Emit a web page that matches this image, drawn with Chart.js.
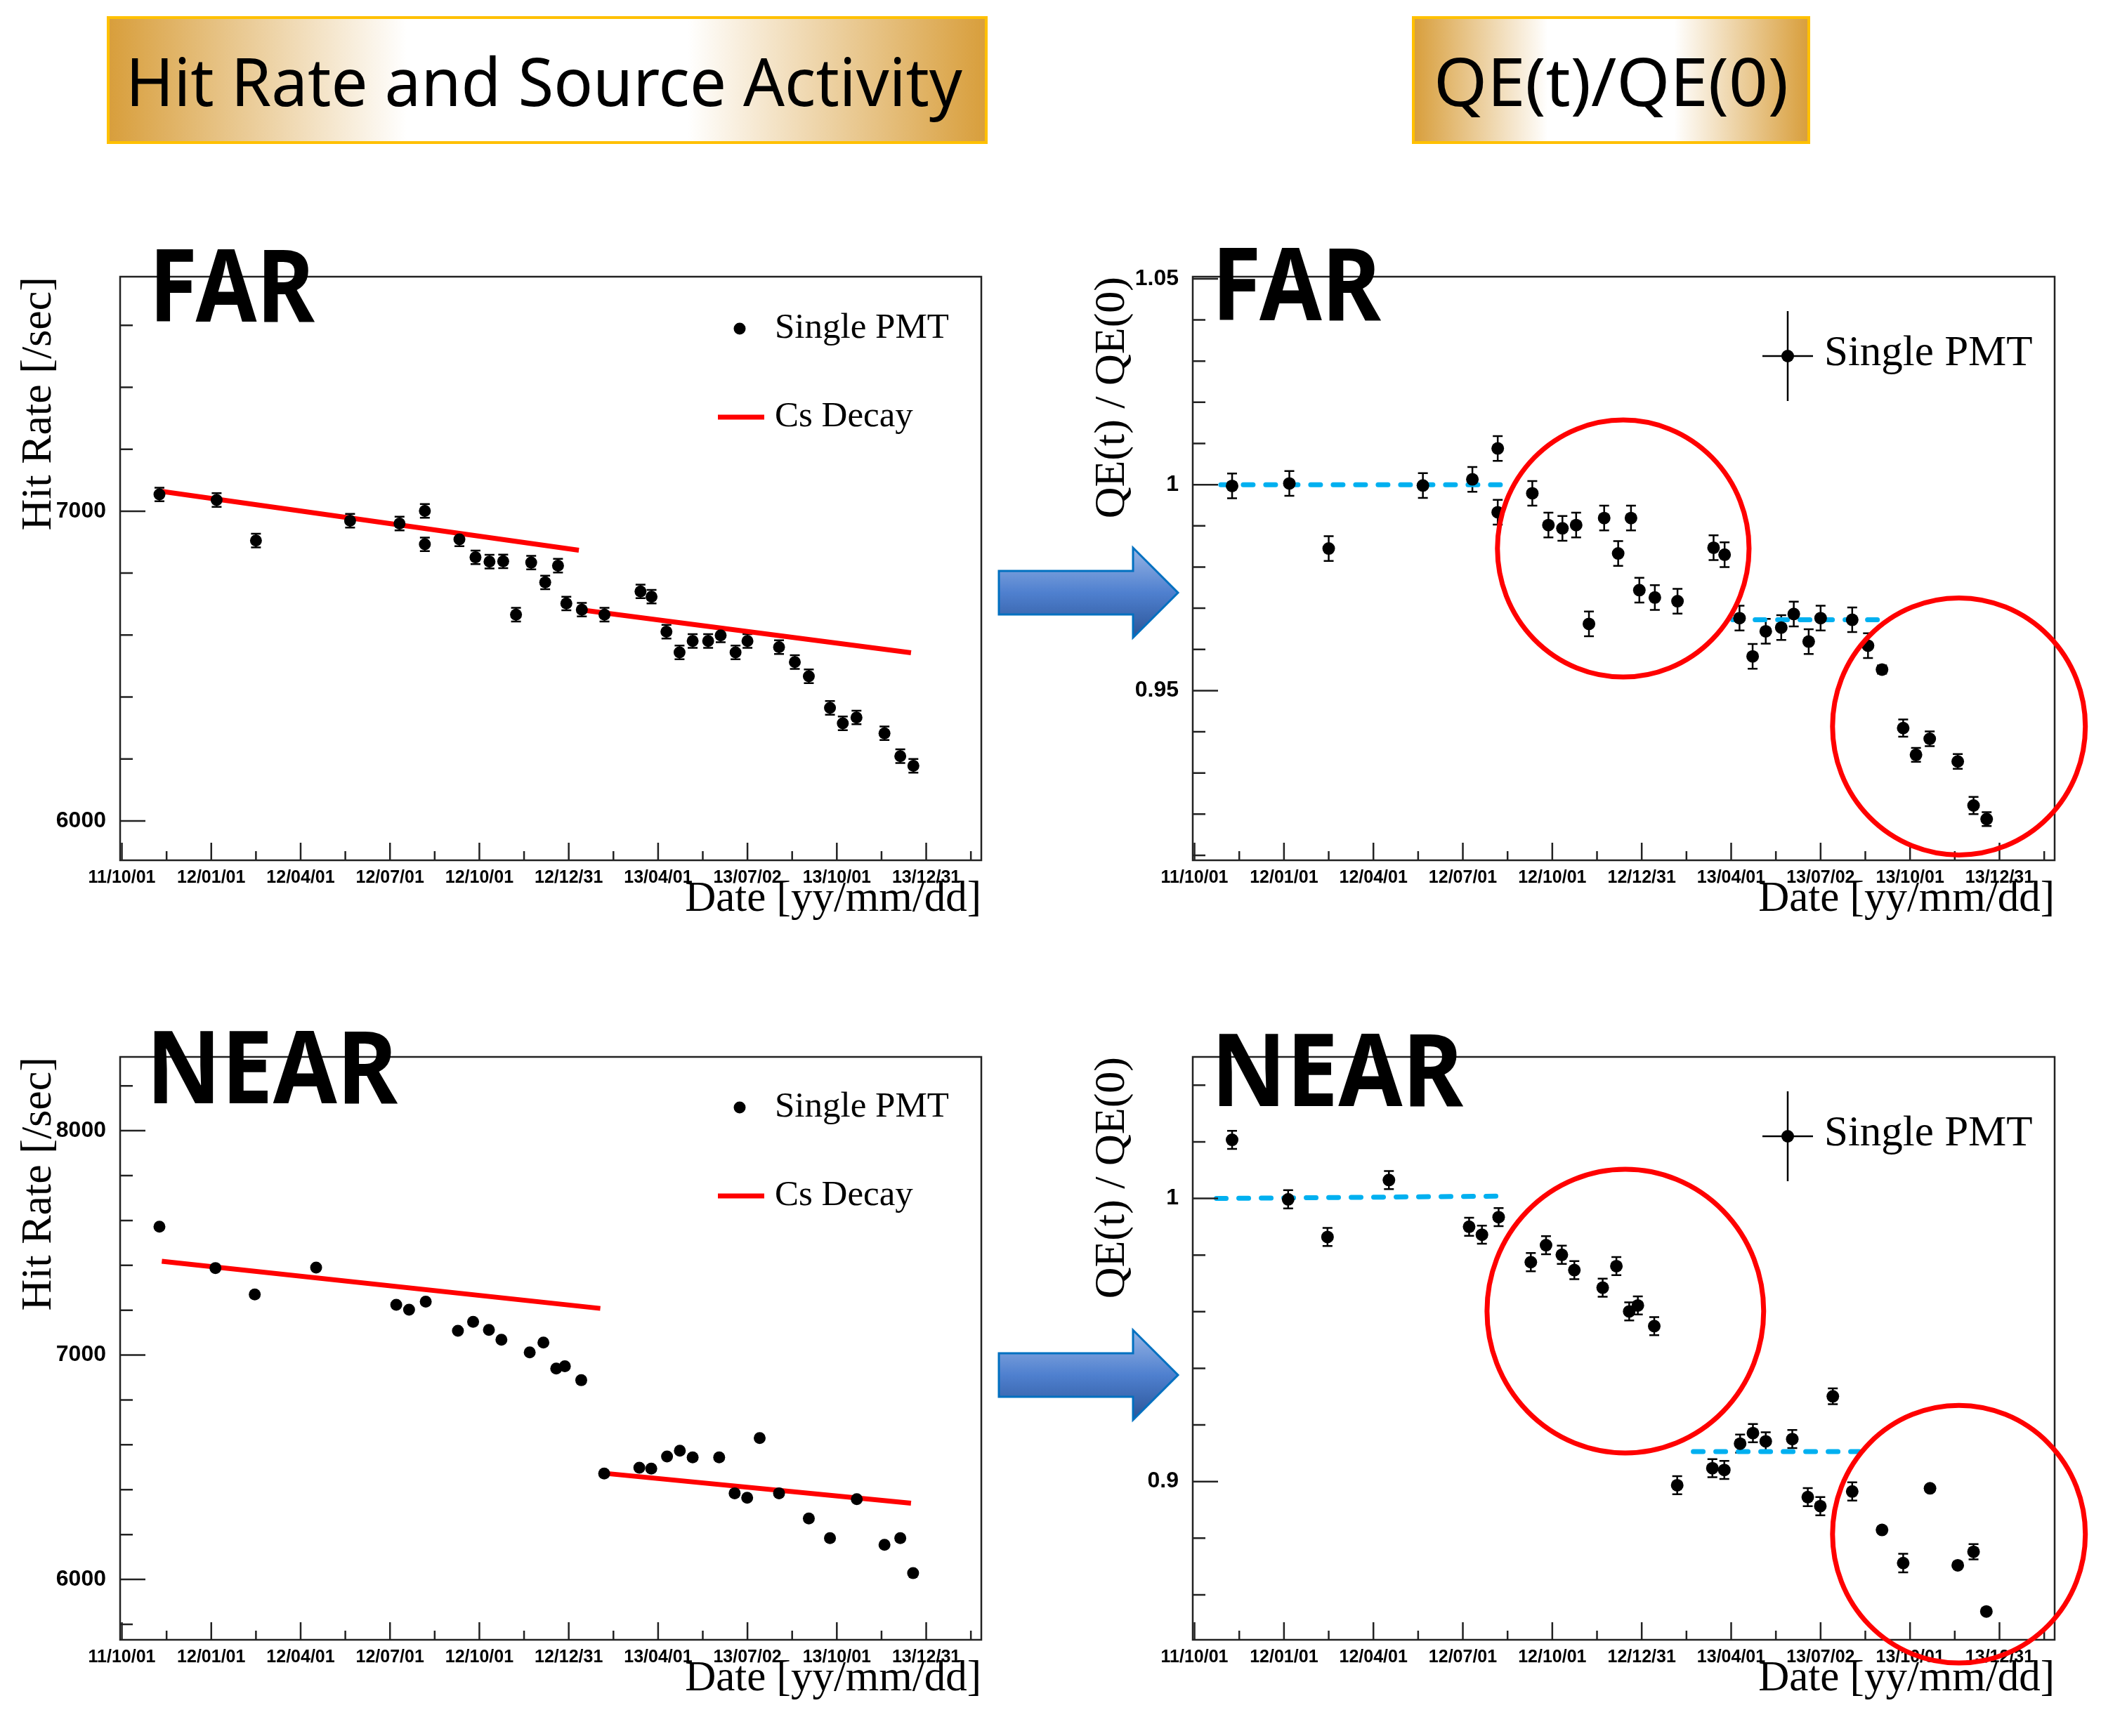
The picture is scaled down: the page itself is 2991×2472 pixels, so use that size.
<!DOCTYPE html>
<html>
<head>
<meta charset="utf-8">
<script src="https://cdn.jsdelivr.net/npm/chart.js@4.4.0/dist/chart.umd.min.js"></script>
<style>
html, body { margin: 0; padding: 0; background: #fff; }
#page { position: relative; width: 2991px; height: 2472px; overflow: hidden; background: #fff; }
#page canvas { position: absolute; }
#overlay { position: absolute; left: 0; top: 0; }
</style>
</head>
<body>
<div id="page">
  <canvas id="farRate" width="1480" height="1060" style="left:0px;top:300px"></canvas>
  <canvas id="farQe" width="1511" height="1060" style="left:1480px;top:300px"></canvas>
  <canvas id="nearRate" width="1480" height="1060" style="left:0px;top:1410px"></canvas>
  <canvas id="nearQe" width="1511" height="1060" style="left:1480px;top:1410px"></canvas>

  <svg id="overlay" width="2991" height="2472" viewBox="0 0 2991 2472">
    <defs>
      <linearGradient id="gold" x1="0" x2="1" y1="0" y2="0">
        <stop offset="0" stop-color="#D89E3B"/>
        <stop offset="0.34" stop-color="#FFFFFF"/>
        <stop offset="0.66" stop-color="#FFFFFF"/>
        <stop offset="1" stop-color="#D89E3B"/>
      </linearGradient>
      <linearGradient id="blue" x1="0" x2="0" y1="0" y2="1">
        <stop offset="0" stop-color="#97B4E4"/>
        <stop offset="0.5" stop-color="#4F80CF"/>
        <stop offset="1" stop-color="#2B5497"/>
      </linearGradient>
    </defs>
    <rect x="154" y="25" width="1250" height="178" fill="url(#gold)" stroke="#FFC000" stroke-width="4"/>
    <text x="179" y="151" font-family="Noto Sans" font-size="95" fill="#000" textLength="1191" lengthAdjust="spacingAndGlyphs">Hit Rate and Source Activity</text>
    <rect x="2012" y="25" width="563" height="178" fill="url(#gold)" stroke="#FFC000" stroke-width="4"/>
    <text x="2041" y="151" font-family="Noto Sans" font-size="95" fill="#000" textLength="505" lengthAdjust="spacingAndGlyphs">QE(t)/QE(0)</text>

    <polygon points="1422,813 1613,813 1613,780 1677,844 1613,908 1613,875 1422,875" fill="url(#blue)" stroke="#0070C0" stroke-width="3"/>
    <polygon points="1422,1927 1613,1927 1613,1894 1677,1958 1613,2022 1613,1989 1422,1989" fill="url(#blue)" stroke="#0070C0" stroke-width="3"/>

    <text x="212" y="458" font-family="Noto Sans" font-weight="700" font-size="143" fill="#000" textLength="236" lengthAdjust="spacingAndGlyphs">FAR</text>
    <text x="1725" y="456" font-family="Noto Sans" font-weight="700" font-size="143" fill="#000" textLength="241" lengthAdjust="spacingAndGlyphs">FAR</text>
    <text x="208" y="1571" font-family="Noto Sans" font-weight="700" font-size="143" fill="#000" textLength="358" lengthAdjust="spacingAndGlyphs">NEAR</text>
    <text x="1724" y="1575" font-family="Noto Sans" font-weight="700" font-size="143" fill="#000" textLength="359" lengthAdjust="spacingAndGlyphs">NEAR</text>
  </svg>
</div>

<script>
// x values are months since 2011-10-01; axis labels every quarter
const quarterLabels = ['11/10/01', '12/01/01', '12/04/01', '12/07/01', '12/10/01',
  '12/12/31', '13/04/01', '13/07/02', '13/10/01', '13/12/31'];

// FAR detector
const farMonths = [1.26, 3.18, 4.5, 7.66, 9.32, 10.17, 10.17, 11.33, 11.87, 12.34, 12.8, 13.23,
  13.74, 14.21, 14.64, 14.92, 15.44, 16.2, 17.41, 17.78, 18.28, 18.72, 19.16, 19.68,
  20.1, 20.6, 21.0, 22.06, 22.59, 23.06, 23.77, 24.2, 24.66, 25.6, 26.13, 26.57];
const farRate = [7054, 7036, 6905, 6969, 6960, 7001, 6893, 6909, 6851, 6837, 6838, 6666,
  6834, 6770, 6824, 6702, 6682, 6666, 6741, 6724, 6611, 6544, 6581, 6581,
  6599, 6544, 6581, 6561, 6513, 6467, 6365, 6315, 6334, 6283, 6209, 6178];
const farRateErr = farMonths.map(() => 22);
const farDecayEarlyX = [1.34, 15.34];
const farDecayEarlyY = [7064, 6874];
const farDecayLateX = [15.38, 26.49];
const farDecayLateY = [6682, 6543];

const farQe = [0.9997, 1.0003, 0.9845, 0.9998, 1.0013, 1.0088, 0.9933, 0.9979, 0.9902, 0.9894, 0.9902, 0.9662,
  0.9919, 0.9833, 0.9919, 0.9744, 0.9726, 0.9717, 0.9847, 0.983, 0.9676, 0.9583, 0.9644, 0.9653,
  0.9686, 0.9619, 0.9676, 0.9672, 0.9609, 0.9551, 0.9409, 0.9344, 0.9383, 0.9328, 0.9221, 0.9188];
const farQeErr = [0.003, 0.003, 0.003, 0.003, 0.003, 0.003, 0.003, 0.003, 0.003, 0.003, 0.003, 0.003,
  0.003, 0.003, 0.003, 0.003, 0.003, 0.003, 0.003, 0.003, 0.003, 0.003, 0.003, 0.003,
  0.003, 0.003, 0.003, 0.003, 0.003, 0.001, 0.0021, 0.0017, 0.0018, 0.0018, 0.0021, 0.0017];
const farFlatEarlyX = [0.88, 10.46];
const farFlatEarlyY = [1.0, 1.0];
const farFlatLateX = [18.05, 23.12];
const farFlatLateY = [0.9672, 0.9672];

// NEAR detector
const nearMonths = [1.26, 3.14, 4.46, 6.52, 9.21, 9.64, 10.2, 11.28, 11.79, 12.32, 12.74, 13.69,
  14.15, 14.58, 14.87, 15.42, 16.19, 17.37, 17.77, 18.3, 18.73, 19.16, 20.05, 20.57,
  20.99, 21.41, 22.06, 23.06, 23.77, 24.67, 25.6, 26.13, 26.56];
const nearRate = [7572, 7388, 7270, 7390, 7224, 7202, 7238, 7108, 7148, 7112, 7068, 7012,
  7056, 6940, 6950, 6888, 6472, 6498, 6494, 6548, 6574, 6544, 6544, 6384,
  6364, 6630, 6384, 6272, 6184, 6358, 6154, 6184, 6028];
const nearDecayEarlyX = [1.34, 16.06];
const nearDecayEarlyY = [7418, 7208];
const nearDecayLateX = [16.13, 26.49];
const nearDecayLateY = [6474, 6340];

const nearQe = [1.0207, 0.9997, 0.9864, 1.0065, 0.99, 0.9872, 0.9934, 0.9775, 0.9835, 0.9801, 0.9747, 0.9685,
  0.9761, 0.9601, 0.9622, 0.9549, 0.8987, 0.9047, 0.9041, 0.9134, 0.9171, 0.9142, 0.915, 0.8945,
  0.8913, 0.9301, 0.8965, 0.8829, 0.8712, 0.8976, 0.8704, 0.8752, 0.8541];
const nearQeErr = [0.0032, 0.0032, 0.0032, 0.0032, 0.0032, 0.0032, 0.0032, 0.0032, 0.0032, 0.0032, 0.0032, 0.0032,
  0.0032, 0.0032, 0.0032, 0.0032, 0.0032, 0.0032, 0.0032, 0.0032, 0.0032, 0.0032, 0.0032, 0.0032,
  0.0032, 0.0028, 0.0032, 0.001, 0.0033, 0.001, 0.001, 0.0027, 0.001];
const nearFlatEarlyX = [0.73, 10.13];
const nearFlatEarlyY = [1.0, 1.0008];
const nearFlatLateX = [16.73, 22.3];
const nearFlatLateY = [0.9106, 0.9106];

// ---------------------------------------------------------------
const X_MIN = -0.06, X_MAX = 28.85;
const X_AXIS_H = 93;
const AXIS_COLOR = '#222';

function zip(xs, ys) { return xs.map((x, i) => ({ x: x, y: ys[i] })); }
function stepTicks(min, max, step) {
  const out = [];
  for (let k = Math.ceil(min / step - 1e-9); k * step <= max + 1e-9; k++) {
    out.push({ value: +(k * step).toFixed(6) });
  }
  return out;
}
function isMult(v, step) { const r = v / step; return Math.abs(r - Math.round(r)) < 1e-6; }

// ROOT style frame with ticks drawn inside the frame
const rootFrame = {
  id: 'rootFrame',
  afterDatasetsDraw(chart, args, opts) {
    const { ctx, chartArea: a, scales: { x, y } } = chart;
    ctx.save();
    ctx.strokeStyle = AXIS_COLOR;
    ctx.lineWidth = 2.5;
    ctx.strokeRect(a.left, a.top, a.right - a.left, a.bottom - a.top);
    ctx.beginPath();
    x.ticks.forEach(t => {
      const px = x.getPixelForValue(t.value);
      const len = isMult(t.value, 3) ? 25 : 13;
      ctx.moveTo(px, a.bottom);
      ctx.lineTo(px, a.bottom - len);
    });
    y.ticks.forEach(t => {
      const py = y.getPixelForValue(t.value);
      const len = isMult(t.value, opts.yMajor) ? 36 : 18;
      ctx.moveTo(a.left, py);
      ctx.lineTo(a.left + len, py);
    });
    ctx.stroke();
    ctx.restore();
  }
};

const errorBars = {
  id: 'errorBars',
  beforeDatasetsDraw(chart, args, opts) {
    const { ctx, scales: { x, y } } = chart;
    chart.data.datasets.forEach(ds => {
      if (!ds.errors) return;
      ctx.save();
      ctx.strokeStyle = '#000';
      ctx.lineWidth = 2.5;
      ctx.beginPath();
      ds.data.forEach((p, j) => {
        const e = ds.errors[j];
        if (!e) return;
        const px = x.getPixelForValue(p.x);
        const y1 = y.getPixelForValue(p.y - e);
        const y2 = y.getPixelForValue(p.y + e);
        ctx.moveTo(px, y1); ctx.lineTo(px, y2);
        ctx.moveTo(px - opts.cap, y1); ctx.lineTo(px + opts.cap, y1);
        ctx.moveTo(px - opts.cap, y2); ctx.lineTo(px + opts.cap, y2);
      });
      ctx.stroke();
      ctx.restore();
    });
  }
};

// red rings, given in data units
const rootRings = {
  id: 'rootRings',
  afterDraw(chart, args, opts) {
    if (!opts.rings) return;
    const { ctx, scales: { x, y } } = chart;
    ctx.save();
    ctx.strokeStyle = '#FF0000';
    ctx.lineWidth = 7;
    opts.rings.forEach(r => {
      const cx = x.getPixelForValue(r.x), cy = y.getPixelForValue(r.y);
      const rx = Math.abs(x.getPixelForValue(r.x + r.rx) - cx);
      const ry = Math.abs(y.getPixelForValue(r.y + r.ry) - cy);
      ctx.beginPath();
      ctx.ellipse(cx, cy, rx, ry, 0, 0, Math.PI * 2);
      ctx.stroke();
    });
    ctx.restore();
  }
};

const rootLegend = {
  id: 'rootLegend',
  afterDraw(chart, args, opts) {
    const { ctx, chartArea: a } = chart;
    ctx.save();
    opts.items.forEach(it => {
      const ds = chart.data.datasets[it.ds];
      const mx = a.left + it.mx, my = a.top + it.my;
      if (it.kind === 'line') {
        ctx.strokeStyle = ds.borderColor;
        ctx.lineWidth = ds.borderWidth;
        ctx.beginPath();
        ctx.moveTo(mx - it.half, my); ctx.lineTo(mx + it.half, my);
        ctx.stroke();
      } else {
        if (it.kind === 'cross') {
          ctx.strokeStyle = '#000';
          ctx.lineWidth = 2.5;
          ctx.beginPath();
          ctx.moveTo(mx, my - it.vHalf); ctx.lineTo(mx, my + it.vHalf);
          ctx.moveTo(mx - it.hHalf, my); ctx.lineTo(mx + it.hHalf, my);
          ctx.stroke();
        }
        ctx.fillStyle = ds.pointBackgroundColor;
        ctx.beginPath();
        ctx.arc(mx, my, ds.pointRadius, 0, Math.PI * 2);
        ctx.fill();
      }
      ctx.fillStyle = '#000';
      ctx.font = it.size + 'px "Liberation Serif"';
      ctx.textBaseline = 'middle';
      ctx.textAlign = 'left';
      ctx.fillText(ds.label, a.left + it.tx, a.top + it.ty);
    });
    ctx.restore();
  }
};

function pointSet(xs, ys, errs, radius) {
  return {
    label: 'Single PMT', data: zip(xs, ys), errors: errs,
    pointRadius: radius, pointHoverRadius: radius, pointBackgroundColor: '#000',
    pointBorderWidth: 0, showLine: false
  };
}
function decaySet(xs, ys) {
  return {
    label: 'Cs Decay', data: zip(xs, ys), showLine: true, borderColor: '#FF0000',
    borderWidth: 7, pointRadius: 0, pointHoverRadius: 0, borderCapStyle: 'butt'
  };
}
function flatSet(xs, ys) {
  return {
    label: 'Stable QE', data: zip(xs, ys), showLine: true, borderColor: '#00B0F0',
    borderWidth: 7, borderDash: [14, 18], borderCapStyle: 'round', pointRadius: 0, pointHoverRadius: 0
  };
}

function makePanel(id, cfg) {
  const cv = document.getElementById(id);
  const W = cv.width, H = cv.height, a = cfg.area;
  return new Chart(cv, {
    type: 'scatter',
    data: { datasets: cfg.datasets },
    options: {
      responsive: false,
      animation: false,
      devicePixelRatio: 1,
      events: [],
      layout: { padding: { left: 0, top: a[1], right: W - a[2], bottom: H - a[3] - X_AXIS_H } },
      plugins: {
        legend: { display: false },
        tooltip: { enabled: false },
        rootFrame: { yMajor: cfg.yMajor },
        errorBars: { cap: 7 },
        rootRings: { rings: cfg.rings },
        rootLegend: { items: cfg.legend }
      },
      scales: {
        x: {
          type: 'linear', min: X_MIN, max: X_MAX,
          afterBuildTicks: s => { s.ticks = stepTicks(X_MIN, X_MAX, 1.5); },
          afterFit: s => { s.height = X_AXIS_H; },
          grid: { display: false }, border: { display: false },
          ticks: {
            autoSkip: false, maxRotation: 0, minRotation: 0, padding: 2, color: '#000',
            font: { family: 'Liberation Sans', weight: 'bold', size: 25 },
            callback: v => isMult(v, 3) ? quarterLabels[Math.round(v / 3)] : ''
          },
          title: {
            display: true, text: 'Date [yy/mm/dd]', align: 'end', color: '#000',
            font: { family: 'Liberation Serif', size: 61 }, padding: { top: 0, bottom: 0 }
          }
        },
        y: {
          type: 'linear', min: cfg.yMin, max: cfg.yMax,
          afterBuildTicks: s => { s.ticks = stepTicks(cfg.yMin, cfg.yMax, cfg.yStep); },
          afterFit: s => { s.width = a[0]; },
          grid: { display: false }, border: { display: false },
          ticks: {
            autoSkip: false, padding: 12, color: '#000',
            font: { family: 'Liberation Sans', weight: 'bold', size: 32 },
            callback: v => isMult(v, cfg.yMajor) ? String(+v.toFixed(3)) : ''
          },
          title: {
            display: true, text: cfg.yTitle, align: 'end', color: '#000',
            font: { family: 'Liberation Serif', size: 62 }, padding: { top: cfg.yTitlePad, bottom: 0 }
          }
        }
      }
    },
    plugins: [errorBars, rootFrame, rootRings, rootLegend]
  });
}

const rateLegend = [
  { ds: 0, kind: 'dot', mx: 882, my: 74, tx: 932, ty: 74, size: 51 },
  { ds: 1, kind: 'line', mx: 884, my: 200, half: 33, tx: 932, ty: 200, size: 51 }
];
const qeLegend = [
  { ds: 0, kind: 'cross', mx: 847, my: 113, vHalf: 64, hHalf: 36, tx: 899, ty: 110, size: 61 }
];

makePanel('farRate', {
  area: [171, 94, 1397, 925],
  yMin: 5873, yMax: 7757, yStep: 200, yMajor: 1000,
  yTitle: 'Hit Rate [/sec]', yTitlePad: 19,
  datasets: [
    pointSet(farMonths, farRate, farRateErr, 8.5),
    decaySet(farDecayEarlyX, farDecayEarlyY),
    decaySet(farDecayLateX, farDecayLateY)
  ],
  legend: rateLegend
});

makePanel('farQe', {
  area: [218, 94, 1445, 925],
  yMin: 0.9088, yMax: 1.0505, yStep: 0.01, yMajor: 0.05,
  yTitle: 'QE(t) / QE(0)', yTitlePad: 67,
  datasets: [
    pointSet(farMonths, farQe, farQeErr, 9),
    flatSet(farFlatEarlyX, farFlatEarlyY),
    flatSet(farFlatLateX, farFlatLateY)
  ],
  rings: [
    { x: 14.38, y: 0.9845, rx: 4.22, ry: 0.0312 },
    { x: 25.64, y: 0.9413, rx: 4.24, ry: 0.0312 }
  ],
  legend: qeLegend
});

makePanel('nearRate', {
  area: [171, 95, 1397, 925],
  yMin: 5731, yMax: 8329, yStep: 200, yMajor: 1000,
  yTitle: 'Hit Rate [/sec]', yTitlePad: 19,
  datasets: [
    pointSet(nearMonths, nearRate, null, 8.5),
    decaySet(nearDecayEarlyX, nearDecayEarlyY),
    decaySet(nearDecayLateX, nearDecayLateY)
  ],
  legend: [
    { ds: 0, kind: 'dot', mx: 882, my: 72, tx: 932, ty: 72, size: 51 },
    { ds: 1, kind: 'line', mx: 884, my: 198, half: 33, tx: 932, ty: 198, size: 51 }
  ]
});

makePanel('nearQe', {
  area: [218, 95, 1445, 925],
  yMin: 0.8441, yMax: 1.05, yStep: 0.02, yMajor: 0.1,
  yTitle: 'QE(t) / QE(0)', yTitlePad: 67,
  datasets: [
    pointSet(nearMonths, nearQe, nearQeErr, 9),
    flatSet(nearFlatEarlyX, nearFlatEarlyY),
    flatSet(nearFlatLateX, nearFlatLateY)
  ],
  rings: [
    { x: 14.45, y: 0.9602, rx: 4.64, ry: 0.0501 },
    { x: 25.64, y: 0.8814, rx: 4.24, ry: 0.0455 }
  ],
  legend: qeLegend
});
</script>
</body>
</html>
